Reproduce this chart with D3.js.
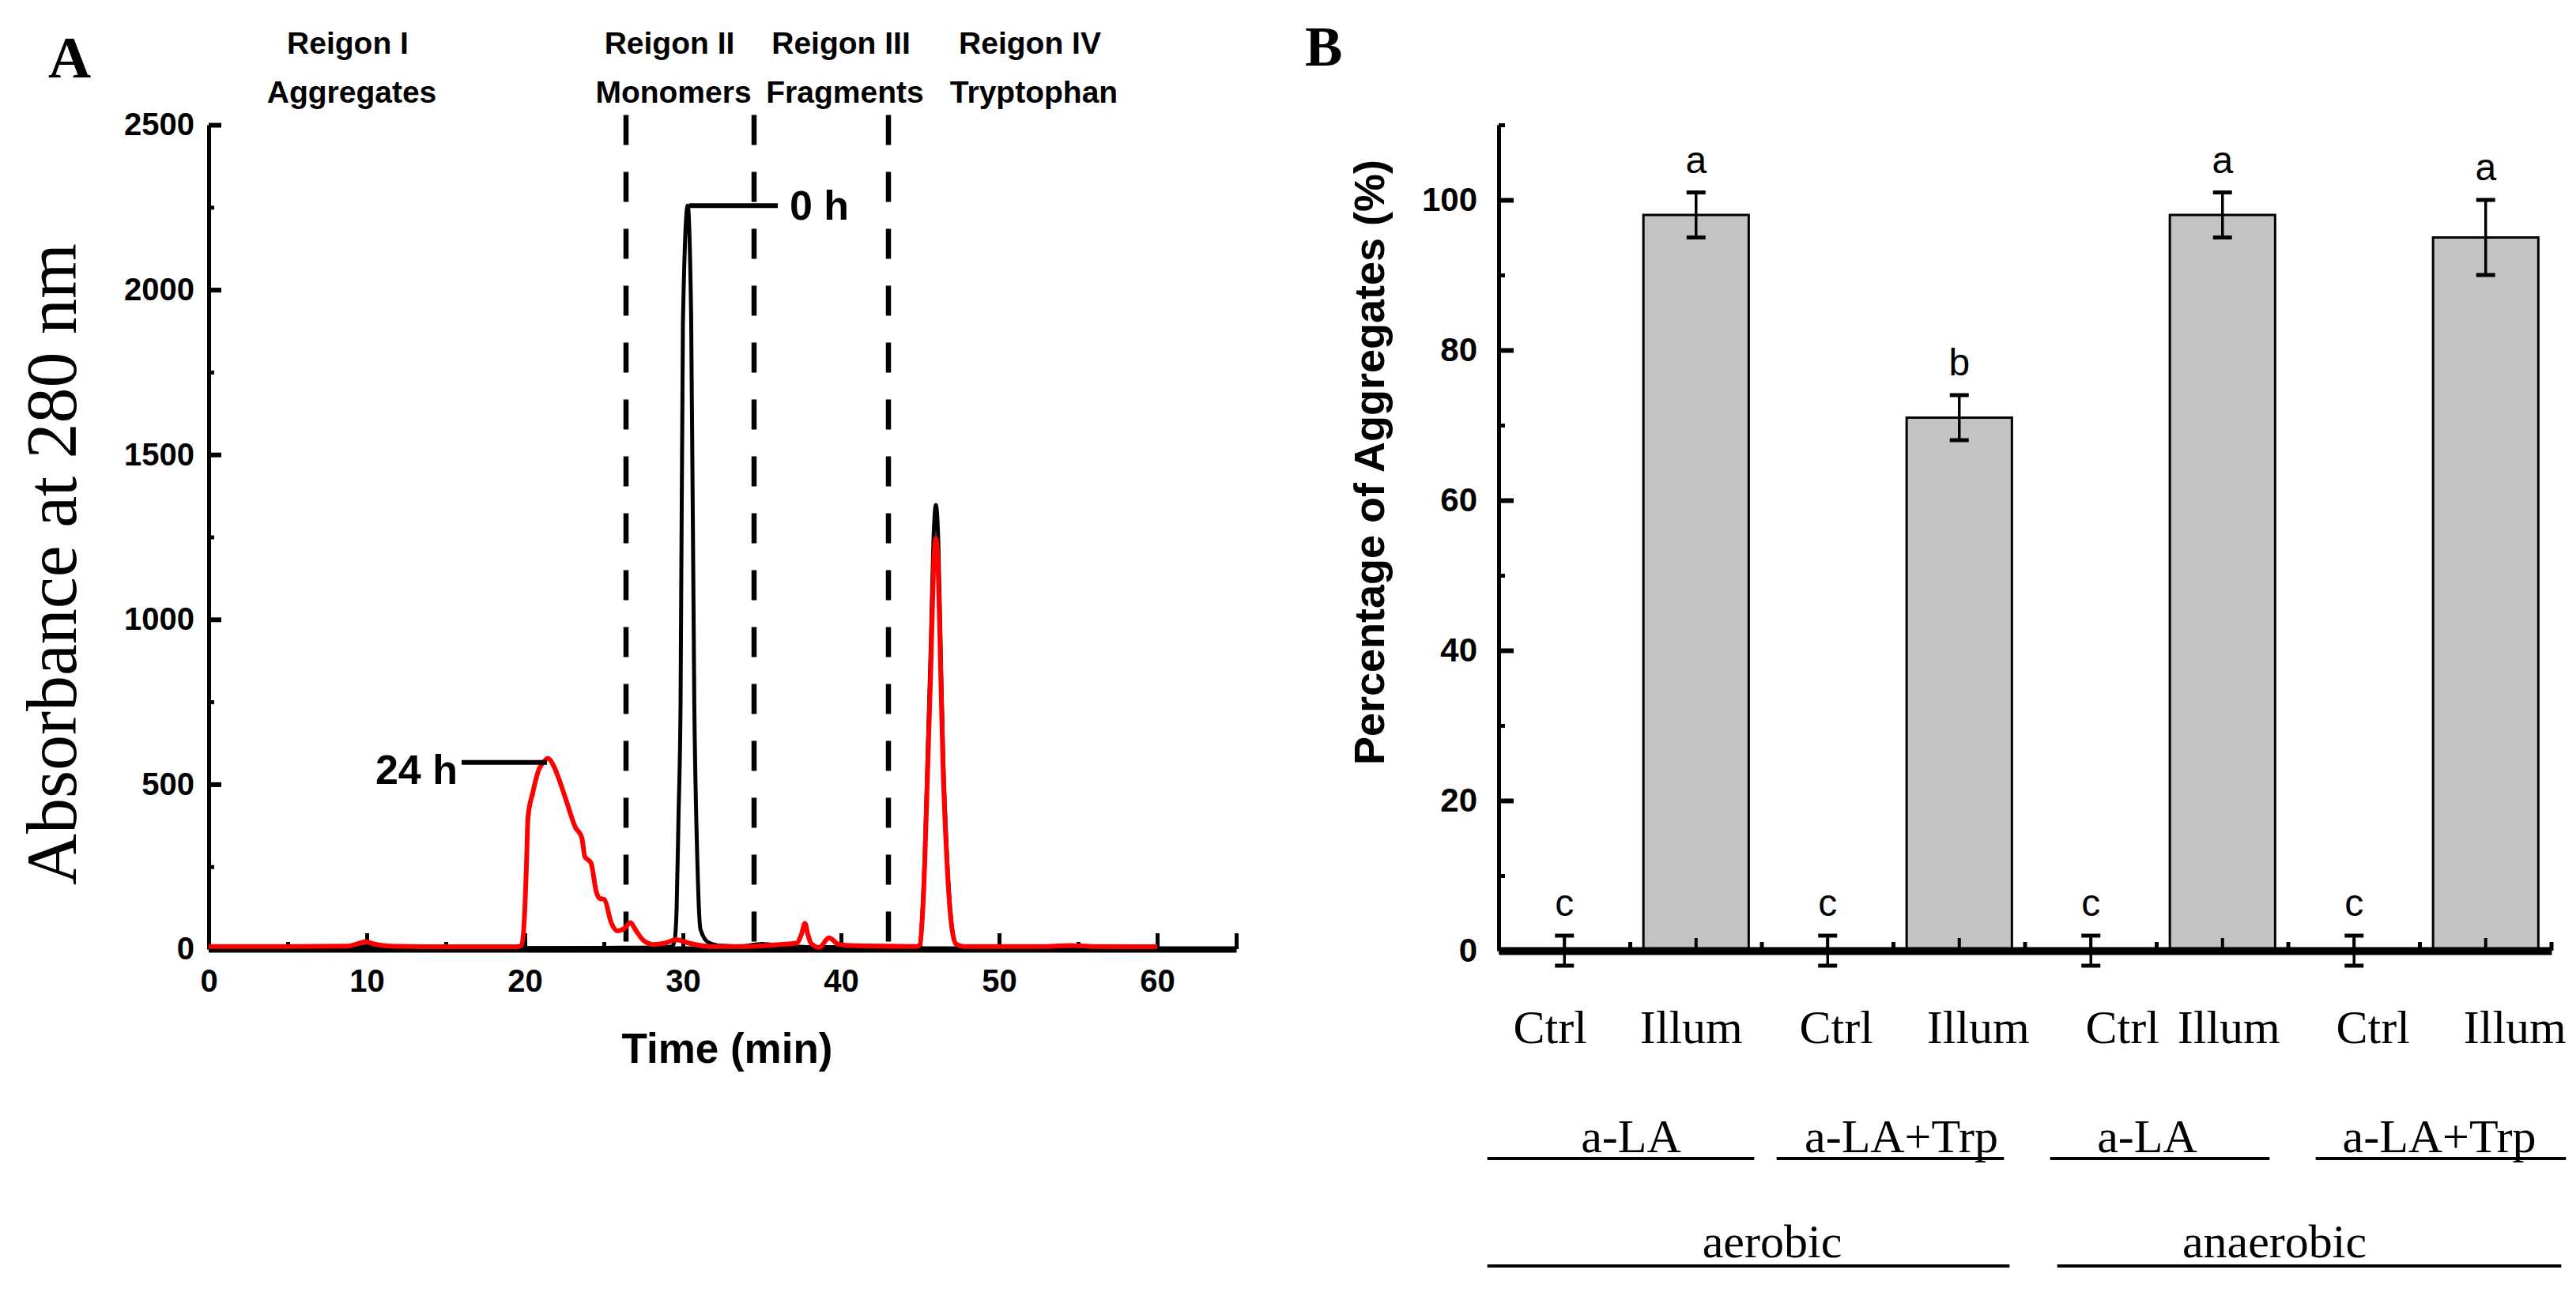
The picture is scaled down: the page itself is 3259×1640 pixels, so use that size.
<!DOCTYPE html>
<html>
<head>
<meta charset="utf-8">
<script src="https://cdn.jsdelivr.net/npm/d3@7"></script>
<style>
  body { margin: 0; background: #fff; overflow: hidden; }
</style>
</head>
<body>
<div id="chart"></div>
<script>
// ---------- Panel A data: SEC chromatograms ----------
const timeTicks = [0, 10, 20, 30, 40, 50, 60, 65];
const timeMinorTicks = [5, 15, 25, 35, 45, 55];
const absTicks = [0, 500, 1000, 1500, 2000, 2500];
const absMinorTicks = [250, 750, 1250, 1750, 2250];

// [time (min), absorbance]
const trace0h = [
  [0, 3], [9, 3], [9.8, 8], [11, 3], [20, 3], [26, 4], [28.5, 5], [29.3, 8],
  [29.47, 25], [29.6, 120], [29.72, 400], [29.85, 740], [30.0, 1900], [30.3, 2255],
  [30.52, 1920], [30.72, 740], [30.9, 290], [31.11, 60], [31.62, 20], [32.45, 10],
  [33.5, 8], [35, 15], [36.5, 10], [38, 6], [44.8, 5], [45.0, 14], [45.15, 108],
  [45.3, 287], [45.49, 606], [45.68, 921], [45.85, 1242], [46.0, 1347], [46.15, 1242],
  [46.3, 921], [46.45, 606], [46.7, 287], [46.95, 97], [47.27, 16], [47.8, 5], [60, 3]
];
const trace24h = [
  [0, 8], [5, 8], [8.8, 9], [9.4, 16], [9.9, 22], [10.5, 15], [11.5, 9], [15, 7],
  [19.5, 7], [19.8, 12], [20.0, 120], [20.1, 250], [20.2, 400], [20.5, 474],
  [20.9, 546], [21.2, 568], [21.45, 578], [21.85, 553], [22.2, 510], [22.57, 458],
  [23.19, 370], [23.6, 338], [23.8, 280], [24.18, 262], [24.53, 172], [24.73, 154],
  [25.04, 150], [25.45, 82], [25.86, 55], [26.28, 62], [26.69, 80], [27.0, 58],
  [27.51, 26], [28.13, 14], [28.85, 18], [29.57, 28], [30.39, 18], [31.63, 8],
  [34.1, 8], [36.15, 14], [37.18, 18], [37.5, 45], [37.72, 78], [37.9, 45],
  [38.1, 18], [38.62, 5], [39.24, 34], [39.86, 14], [40.88, 10], [44.8, 8],
  [45.0, 14], [45.15, 100], [45.3, 266], [45.49, 561], [45.68, 853], [45.85, 1150],
  [46.0, 1245], [46.15, 1150], [46.3, 853], [46.45, 561], [46.7, 266], [46.95, 90],
  [47.27, 15], [47.8, 8], [53, 8], [54.5, 11], [56, 8], [60, 7]
];
const regionBounds = [26.4, 34.5, 43.0];
const regionNames = ["Reigon I", "Reigon II", "Reigon III", "Reigon IV"];
const regionContents = ["Aggregates", "Monomers", "Fragments", "Tryptophan"];

// ---------- Panel B data: aggregate percentage ----------
const treatments = ["Ctrl", "Illum", "Ctrl", "Illum", "Ctrl", "Illum", "Ctrl", "Illum"];
const aggMean = [0, 98, 0, 71, 0, 98, 0, 95];
const aggErr = [2, 3, 2, 3, 2, 3, 2, 5];
const sigLetters = ["c", "a", "c", "b", "c", "a", "c", "a"];
const proteinGroups = ["a-LA", "a-LA+Trp", "a-LA", "a-LA+Trp"];
const oxygenGroups = ["aerobic", "anaerobic"];
const pctTicks = [0, 20, 40, 60, 80, 100];
const pctMinorTicks = [10, 30, 50, 70, 90, 110];

// ---------- layout ----------
const W = 3259, H = 1640;
const SANS = '"Liberation Sans", Arial, sans-serif';
const SERIF = '"Liberation Serif", "Times New Roman", serif';

const svg = d3.select("#chart").append("svg")
  .attr("width", W).attr("height", H)
  .style("background", "#fff");

// ================= Panel A =================
const xA = d3.scaleLinear().domain([0, 65]).range([264, 1564]);
const yA = d3.scaleLinear().domain([0, 2500]).range([1201, 158]);
const gA = svg.append("g");

// region labels sit at these times (min)
const regionLabelAt = [8.8, 29.15, 40.0, 51.95];

gA.append("text").attr("x", 61).attr("y", 98)
  .attr("font-family", SERIF).attr("font-weight", "bold").attr("font-size", 75)
  .text("A");

// minor ticks
gA.append("g").attr("transform", `translate(${xA(0)},0)`)
  .call(d3.axisLeft(yA).tickValues(absMinorTicks).tickSize(-7).tickFormat(""))
  .call(g => g.select(".domain").remove())
  .call(g => g.selectAll(".tick line").attr("stroke-width", 5));
gA.append("g").attr("transform", `translate(0,${yA(0)})`)
  .call(d3.axisBottom(xA).tickValues(timeMinorTicks).tickSize(-9).tickFormat(""))
  .call(g => g.select(".domain").remove())
  .call(g => g.selectAll(".tick line").attr("stroke-width", 5));

// y axis
gA.append("g").attr("transform", `translate(${xA(0)},0)`)
  .call(d3.axisLeft(yA).tickValues(absTicks).tickSizeInner(-16).tickSizeOuter(0).tickPadding(18)
    .tickFormat(d3.format("d")))
  .attr("font-family", SANS).attr("font-size", 40).attr("font-weight", "bold")
  .call(g => g.select(".domain").attr("stroke-width", 5))
  .call(g => g.selectAll(".tick line").attr("stroke-width", 6));

// x axis
gA.append("g").attr("transform", `translate(0,${yA(0)})`)
  .call(d3.axisBottom(xA).tickValues(timeTicks).tickSizeInner(-20).tickSizeOuter(0).tickPadding(26)
    .tickFormat(d => d === 65 ? "" : d))
  .attr("font-family", SANS).attr("font-size", 40).attr("font-weight", "bold")
  .call(g => g.select(".domain").attr("stroke-width", 8))
  .call(g => g.selectAll(".tick line").attr("stroke-width", 5));

// dashed region boundaries
gA.selectAll("line.region").data(regionBounds).join("line")
  .attr("class", "region")
  .attr("x1", d => xA(d)).attr("x2", d => xA(d))
  .attr("y1", yA(2530)).attr("y2", yA(0))
  .attr("stroke", "#000").attr("stroke-width", 6.5)
  .attr("stroke-dasharray", "38 34");

// region titles
gA.selectAll("text.rname").data(regionNames).join("text")
  .attr("class", "rname")
  .attr("x", (d, i) => xA(regionLabelAt[i])).attr("y", 68)
  .attr("text-anchor", "middle")
  .attr("font-family", SANS).attr("font-weight", "bold").attr("font-size", 39)
  .text(d => d);
gA.selectAll("text.rcont").data(regionContents).join("text")
  .attr("class", "rcont")
  .attr("x", (d, i) => xA(regionLabelAt[i]) + 5).attr("y", 130)
  .attr("text-anchor", "middle")
  .attr("font-family", SANS).attr("font-weight", "bold").attr("font-size", 39)
  .text(d => d);

// traces
const lineA = d3.line()
  .x(d => xA(d[0])).y(d => yA(d[1]))
  .curve(d3.curveMonotoneX);

gA.append("path").datum(trace0h)
  .attr("d", lineA).attr("fill", "none")
  .attr("stroke", "#000").attr("stroke-width", 5).attr("stroke-linejoin", "round");
gA.append("path").datum(trace24h)
  .attr("d", lineA).attr("fill", "none")
  .attr("stroke", "#ff0000").attr("stroke-width", 6).attr("stroke-linejoin", "round");

// trace call-outs
gA.append("line")
  .attr("x1", xA(30.4)).attr("x2", xA(36.0))
  .attr("y1", yA(2255)).attr("y2", yA(2255))
  .attr("stroke", "#000").attr("stroke-width", 6);
gA.append("text").attr("x", xA(36.75)).attr("y", yA(2212))
  .attr("font-family", SANS).attr("font-weight", "bold").attr("font-size", 52)
  .text("0 h");
gA.append("line")
  .attr("x1", xA(16.0)).attr("x2", xA(21.4))
  .attr("y1", yA(566)).attr("y2", yA(566))
  .attr("stroke", "#000").attr("stroke-width", 6);
gA.append("text").attr("x", xA(15.75)).attr("y", yA(501))
  .attr("text-anchor", "end")
  .attr("font-family", SANS).attr("font-weight", "bold").attr("font-size", 52)
  .text("24 h");

// axis titles
gA.append("text").attr("x", xA(32.8)).attr("y", 1345)
  .attr("text-anchor", "middle")
  .attr("font-family", SANS).attr("font-weight", "bold").attr("font-size", 53)
  .text("Time (min)");
gA.append("text")
  .attr("transform", "translate(96,714) rotate(-90)")
  .attr("text-anchor", "middle")
  .attr("font-family", SERIF).attr("font-size", 90)
  .attr("textLength", 812).attr("lengthAdjust", "spacingAndGlyphs")
  .text("Absorbance at 280 nm");

// ================= Panel B =================
const idx = d3.range(treatments.length);
const xB = d3.scaleBand().domain(idx).range([1896, 3228]).paddingInner(0.2).paddingOuter(0.1);
const yB = d3.scaleLinear().domain([0, 110]).range([1203, 158]);
const bw = xB.bandwidth();
const cx = i => xB(i) + bw / 2;
const gB = svg.append("g");

gB.append("text").attr("x", 1651).attr("y", 83)
  .attr("font-family", SERIF).attr("font-weight", "bold").attr("font-size", 71)
  .text("B");

// bars
gB.selectAll("rect.bar").data(idx).join("rect")
  .attr("class", "bar")
  .attr("x", i => xB(i)).attr("width", bw)
  .attr("y", i => yB(aggMean[i]))
  .attr("height", i => yB(0) - yB(aggMean[i]))
  .attr("fill", "#c3c3c3").attr("stroke", "#000").attr("stroke-width", 3);

// y axis
gB.append("g").attr("transform", `translate(${xB.range()[0]},0)`)
  .call(d3.axisLeft(yB).tickValues(pctMinorTicks).tickSize(-8).tickFormat(""))
  .call(g => g.select(".domain").remove())
  .call(g => g.selectAll(".tick line").attr("stroke-width", 5));
gB.append("g").attr("transform", `translate(${xB.range()[0]},0)`)
  .call(d3.axisLeft(yB).tickValues(pctTicks).tickSizeInner(-19).tickSizeOuter(0).tickPadding(27))
  .attr("font-family", SANS).attr("font-size", 42).attr("font-weight", "bold")
  .call(g => g.select(".domain").attr("stroke-width", 5))
  .call(g => g.selectAll(".tick line").attr("stroke-width", 6));

// x axis (ticks at band centres, small ticks at band edges)
gB.append("g").attr("transform", `translate(0,${yB(0)})`)
  .call(d3.axisBottom(xB).tickSizeInner(-16).tickSizeOuter(0).tickFormat(""))
  .call(g => g.select(".domain").attr("stroke-width", 10))
  .call(g => g.selectAll(".tick line").attr("stroke-width", 4));
gB.selectAll("line.edge").data(idx).join("line")
  .attr("class", "edge")
  .attr("x1", i => cx(i) + xB.step() / 2).attr("x2", i => cx(i) + xB.step() / 2)
  .attr("y1", yB(0)).attr("y2", yB(0) - 11)
  .attr("stroke", "#000").attr("stroke-width", 5);

// error bars
const capW = 24;
const eb = gB.selectAll("g.err").data(idx).join("g").attr("class", "err");
eb.append("line")
  .attr("x1", cx).attr("x2", cx)
  .attr("y1", i => yB(aggMean[i] - aggErr[i])).attr("y2", i => yB(aggMean[i] + aggErr[i]))
  .attr("stroke", "#000").attr("stroke-width", 3.5);
eb.append("line")
  .attr("x1", i => cx(i) - capW / 2).attr("x2", i => cx(i) + capW / 2)
  .attr("y1", i => yB(aggMean[i] + aggErr[i])).attr("y2", i => yB(aggMean[i] + aggErr[i]))
  .attr("stroke", "#000").attr("stroke-width", 5);
eb.append("line")
  .attr("x1", i => cx(i) - capW / 2).attr("x2", i => cx(i) + capW / 2)
  .attr("y1", i => yB(aggMean[i] - aggErr[i])).attr("y2", i => yB(aggMean[i] - aggErr[i]))
  .attr("stroke", "#000").attr("stroke-width", 5);

// significance letters
gB.selectAll("text.sig").data(idx).join("text")
  .attr("class", "sig")
  .attr("x", cx).attr("y", i => yB(aggMean[i] + aggErr[i]) - 25)
  .attr("text-anchor", "middle")
  .attr("font-family", SANS).attr("font-size", 48)
  .text(i => sigLetters[i]);

// treatment labels (hand-placed in the original, shifted off band centres)
const treatShift = [-18, -6, 11, 24, 40, 8, 24, 37];
gB.selectAll("text.treat").data(idx).join("text")
  .attr("class", "treat")
  .attr("x", i => cx(i) + treatShift[i]).attr("y", 1320)
  .attr("text-anchor", "middle")
  .attr("font-family", SERIF).attr("font-size", 60)
  .text(i => treatments[i]);

// protein group labels with underlines
const protStart = [-31, 2, 15, 18], protEnd = [7, -10, -7, 35], protShift = [13, 14, -16, -2];
const prot = proteinGroups.map((name, k) => {
  const x1 = xB(2 * k) + protStart[k], x2 = xB(2 * k + 1) + bw + protEnd[k];
  return { name, x1, x2, tx: (x1 + x2) / 2 + protShift[k] };
});
gB.selectAll("line.prot").data(prot).join("line")
  .attr("class", "prot")
  .attr("x1", d => d.x1).attr("x2", d => d.x2)
  .attr("y1", 1466).attr("y2", 1466)
  .attr("stroke", "#000").attr("stroke-width", 4);
gB.selectAll("text.prot").data(prot).join("text")
  .attr("class", "prot")
  .attr("x", d => d.tx).attr("y", 1458)
  .attr("text-anchor", "middle")
  .attr("font-family", SERIF).attr("font-size", 60)
  .text(d => d.name);

// oxygen condition labels with underlines
const oxStart = [-31, 24], oxEnd = [-3, 29], oxShift = [30, -44];
const ox = oxygenGroups.map((name, k) => {
  const x1 = xB(4 * k) + oxStart[k], x2 = xB(4 * k + 3) + bw + oxEnd[k];
  return { name, x1, x2, tx: (x1 + x2) / 2 + oxShift[k] };
});
gB.selectAll("line.ox").data(ox).join("line")
  .attr("class", "ox")
  .attr("x1", d => d.x1).attr("x2", d => d.x2)
  .attr("y1", 1602).attr("y2", 1602)
  .attr("stroke", "#000").attr("stroke-width", 4);
gB.selectAll("text.ox").data(ox).join("text")
  .attr("class", "ox")
  .attr("x", d => d.tx).attr("y", 1591)
  .attr("text-anchor", "middle")
  .attr("font-family", SERIF).attr("font-size", 60)
  .text(d => d.name);

// y title
gB.append("text")
  .attr("transform", "translate(1751,585) rotate(-90)")
  .attr("text-anchor", "middle")
  .attr("font-family", SANS).attr("font-weight", "bold").attr("font-size", 54)
  .text("Percentage of Aggregates (%)");
</script>
</body>
</html>
